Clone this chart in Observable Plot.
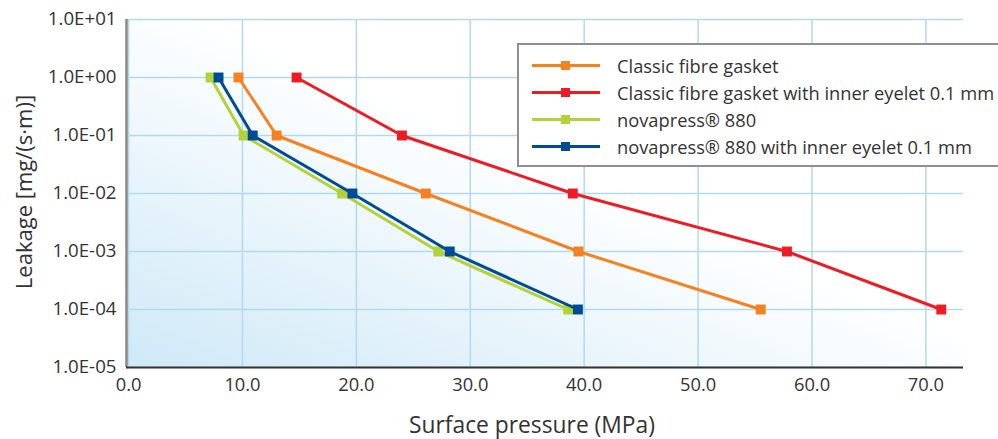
<!DOCTYPE html>
<html>
<head>
<meta charset="utf-8">
<script src="https://cdn.jsdelivr.net/npm/d3@7"></script>
<script src="https://cdn.jsdelivr.net/npm/@observablehq/plot@0.6"></script>
<style>
  html, body { margin: 0; padding: 0; background: #fff; overflow: hidden; }
  #wrap { position: relative; width: 998px; height: 439px; font-family: "Open Sans", sans-serif; color: #333; }
  #legend { position: absolute; left: 517px; top: 43px; width: 490px; height: 124px; background: #fff;
            border: 2px solid #8f8f8f; box-sizing: border-box; }
  .row { position: absolute; left: 0; height: 27px; display: flex; align-items: center; }
  .sw { position: relative; width: 68px; height: 27px; margin-left: 13px; }
  .sw .ln { position: absolute; left: 0; right: 0; top: 12px; height: 3px; }
  .sw .mk { position: absolute; left: 29px; top: 9px; width: 9px; height: 9px; }
  .lab { margin-left: 17px; font-size: 18.3px; color: #333; white-space: nowrap; }
  .title { position: absolute; color: #333; white-space: nowrap; line-height: 1; }
</style>
</head>
<body>
<div id="wrap"></div>
<script>
// ---- data ----
const seriesNames = [
  "Classic fibre gasket",
  "Classic fibre gasket with inner eyelet 0.1 mm",
  "novapress® 880",
  "novapress® 880 with inner eyelet 0.1 mm"
];
const seriesColors = ["#f5821f", "#ed1c24", "#b3d235", "#004b97"];
const leakage = [1, 0.1, 0.01, 0.001, 0.0001];
const pressureClassic = [9.65, 13.0, 26.1, 39.5, 55.5];
const pressureClassicEyelet = [14.75, 24.0, 39.0, 57.8, 71.35];
const pressureNovapress = [7.2, 10.1, 18.75, 27.2, 38.6];
const pressureNovapressEyelet = [7.9, 10.9, 19.65, 28.2, 39.45];
const xTicks = [0, 10, 20, 30, 40, 50, 60, 70];
const xTickLabels = ["0.0", "10.0", "20.0", "30.0", "40.0", "50.0", "60.0", "70.0"];
const yTicks = [1e1, 1e0, 1e-1, 1e-2, 1e-3, 1e-4, 1e-5];
const yTickLabels = ["1.0E+01", "1.0E+00", "1.0E-01", "1.0E-02", "1.0E-03", "1.0E-04", "1.0E-05"];
const xTitle = "Surface pressure (MPa)";
const yTitle = "Leakage [mg/(s·m)]";

const pressures = [pressureClassic, pressureClassicEyelet, pressureNovapress, pressureNovapressEyelet];
const rows = [];
seriesNames.forEach((s, i) => pressures[i].forEach((p, j) => rows.push({series: s, x: p, y: leakage[j]})));

const xDomain = [-0.18, 73.3];
const marks = [
  Plot.frame({fill: "url(#bggrad)", stroke: "none"}),
  Plot.gridX(xTicks, {stroke: "#b3d9ec", strokeOpacity: 1, strokeWidth: 1.5}),
  Plot.gridY(yTicks, {stroke: "#b3d9ec", strokeOpacity: 1, strokeWidth: 1.5}),
  Plot.axisX(xTicks, {tickSize: 0, tickPadding: 10, tickFormat: d => xTickLabels[xTicks.indexOf(d)], fontSize: 18.3, fill: "#333", label: null}),
  Plot.axisY(yTicks, {tickSize: 0, tickPadding: 10, tickFormat: d => yTickLabels[yTicks.indexOf(d)], fontSize: 18.7, fill: "#333", label: null}),
  Plot.ruleX([xDomain[0]], {stroke: "#888", strokeWidth: 2.5}),
  Plot.ruleY([1e-5], {stroke: "#333", strokeWidth: 2})
];
seriesNames.forEach((s, i) => {
  const d = rows.filter(r => r.series === s);
  marks.push(Plot.line(d, {x: "x", y: "y", stroke: seriesColors[i], strokeWidth: 3}));
  marks.push(Plot.dot(d, {x: "x", y: "y", symbol: "square", fill: seriesColors[i], r: 5.6}));
});

const chart = Plot.plot({
  width: 998,
  height: 439,
  marginLeft: 126,
  marginRight: 35,
  marginTop: 19,
  marginBottom: 72,
  style: {fontFamily: "'Open Sans', sans-serif", fontSize: "18px", color: "#333", background: "transparent"},
  x: {domain: xDomain},
  y: {type: "log", domain: [1e-5, 1e1]},
  marks
});

const svg = d3.select(chart);
svg.selectAll("g[aria-label='x-axis tick label'] text").style("font-size", "18.3px");
svg.selectAll("g[aria-label='y-axis tick label'] text").style("font-size", "18.7px");
const defs = svg.insert("defs", ":first-child");
const g = defs.append("linearGradient").attr("id", "bggrad")
  .attr("x1", 0).attr("y1", 1).attr("x2", 0.55).attr("y2", 0.45);
g.append("stop").attr("offset", "0%").attr("stop-color", "#cfe9f7");
g.append("stop").attr("offset", "100%").attr("stop-color", "#ffffff");

const wrap = document.getElementById("wrap");
wrap.appendChild(chart);

// legend
const leg = document.createElement("div");
leg.id = "legend";
seriesNames.forEach((s, i) => {
  const r = document.createElement("div");
  r.className = "row";
  r.style.top = (6.5 + i * 27) + "px";
  r.innerHTML = `<div class="sw"><div class="ln" style="background:${seriesColors[i]}"></div><div class="mk" style="background:${seriesColors[i]}"></div></div><div class="lab"></div>`;
  r.querySelector(".lab").textContent = s;
  leg.appendChild(r);
});
wrap.appendChild(leg);

// axis titles
const xt = document.createElement("div");
xt.className = "title";
xt.textContent = xTitle;
xt.style.fontSize = "22.8px";
xt.style.left = "532px"; xt.style.top = "425px";
xt.style.transform = "translate(-50%, -50%)";
wrap.appendChild(xt);
const yt = document.createElement("div");
yt.className = "title";
yt.textContent = yTitle;
yt.style.fontSize = "22px";
yt.style.left = "23px"; yt.style.top = "192px";
yt.style.transform = "translate(-50%, -50%) rotate(-90deg)";
wrap.appendChild(yt);
</script>
</body>
</html>
